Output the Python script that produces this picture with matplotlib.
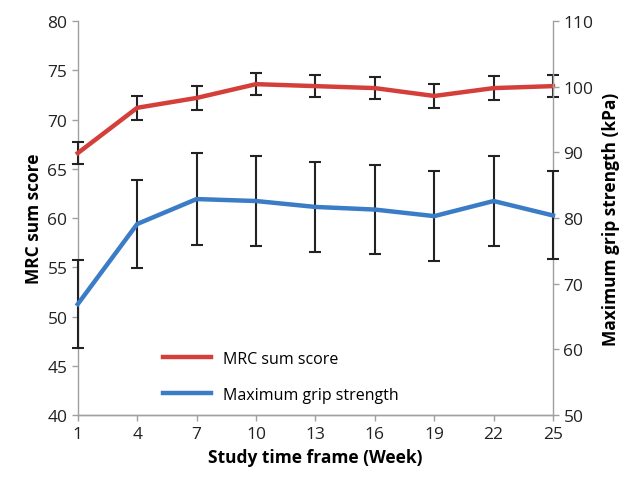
import matplotlib
matplotlib.use("Agg")
import matplotlib.pyplot as plt
from matplotlib.lines import Line2D

weeks = [1, 4, 7, 10, 13, 16, 19, 22, 25]
mrc = [66.6, 71.2, 72.2, 73.6, 73.4, 73.2, 72.4, 73.2, 73.4]
mrc_err = [1.1, 1.2, 1.2, 1.1, 1.1, 1.1, 1.25, 1.25, 1.1]
grip = [66.9, 79.1, 82.9, 82.6, 81.7, 81.3, 80.3, 82.6, 80.4]
grip_err = [6.7, 6.7, 7.0, 6.9, 6.8, 6.8, 6.8, 6.9, 6.7]

red = "#d43f3a"
blue = "#3b7cc6"
grey = "#a0a0a0"

plt.rcParams['font.family'] = ['Open Sans', 'DejaVu Sans']

fig = plt.figure(figsize=(6.43, 4.81), dpi=100)
ax = fig.add_axes([0.121, 0.135, 0.739, 0.819])
ax2 = ax.twinx()

ax.errorbar(weeks, mrc, yerr=mrc_err, color=red, lw=3.2, ecolor="#222222",
            elinewidth=1.5, capsize=4.5, capthick=1.5, clip_on=False, zorder=3)
ax2.errorbar(weeks, grip, yerr=grip_err, color=blue, lw=3.2, ecolor="#222222",
             elinewidth=1.5, capsize=4.5, capthick=1.5, clip_on=False, zorder=3)

ax.set_xlim(1, 25)
ax.set_ylim(40, 80)
ax2.set_ylim(50, 110)
ax.set_xticks(weeks)
ax.set_yticks(range(40, 81, 5))
ax2.set_yticks(range(50, 111, 10))

for a in (ax, ax2):
    a.spines['top'].set_visible(False)
    for s in ('left', 'right', 'bottom'):
        a.spines[s].set_color(grey)
        a.spines[s].set_linewidth(1.0)
    a.tick_params(colors=grey, labelcolor="#222222", labelsize=12.5, length=4, width=1)
ax2.spines['left'].set_visible(False)
ax.spines['right'].set_visible(False)
ax.tick_params(axis='x', pad=4)

ax.set_xlabel("Study time frame (Week)", fontsize=12.5, fontweight='bold', labelpad=4)
ax.set_ylabel("MRC sum score", fontsize=12.5, fontweight='bold', labelpad=3)
ax2.set_ylabel("Maximum grip strength (kPa)", fontsize=12.5, fontweight='bold', labelpad=6)

handles = [Line2D([], [], color=red, lw=3.2), Line2D([], [], color=blue, lw=3.2)]
ax.legend(handles, ["MRC sum score", "Maximum grip strength"], loc='lower left',
          bbox_to_anchor=(0.15, -0.005), frameon=False, fontsize=11.5,
          handlelength=3, handletextpad=0.7, labelspacing=1.25)

fig.savefig("out.png", dpi=100)
